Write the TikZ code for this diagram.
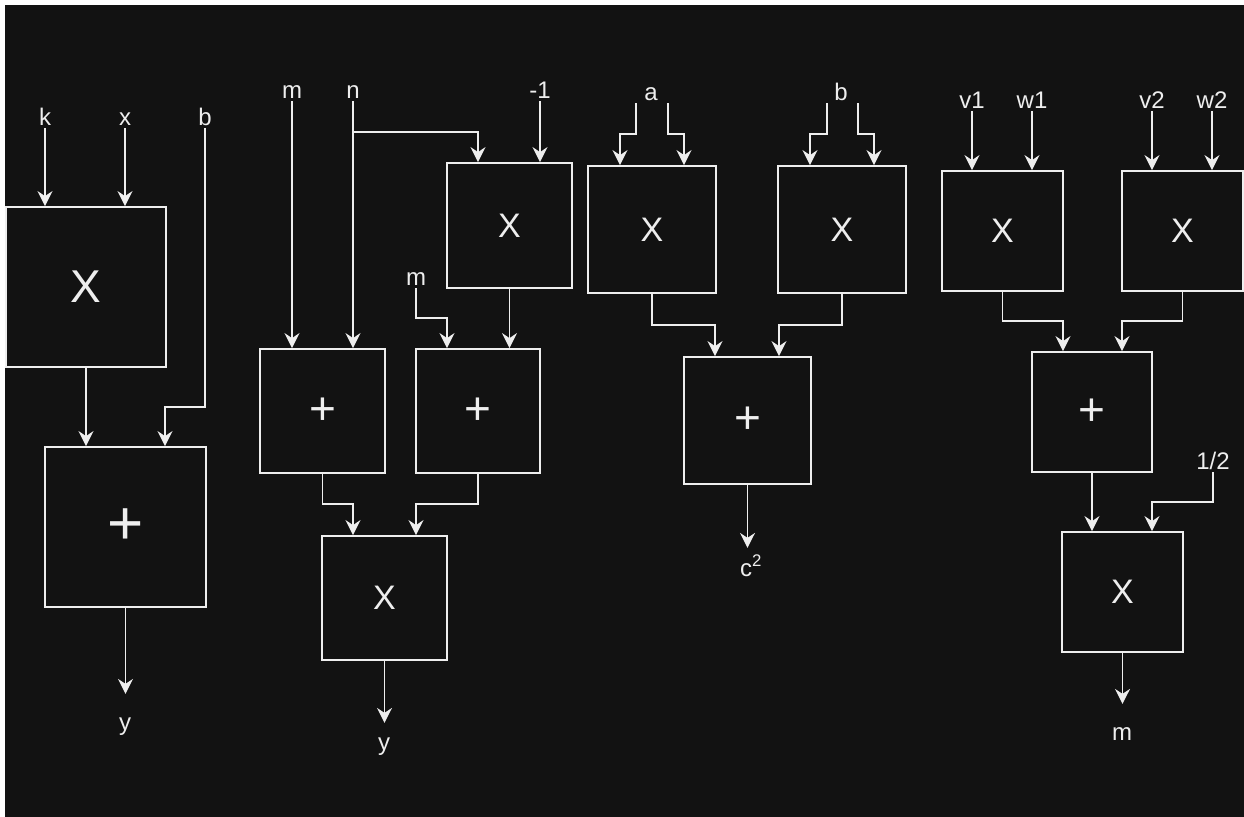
\documentclass[tikz,border=0pt]{standalone}
\usepackage{fontspec}
\setmainfont{Liberation Sans}
\usetikzlibrary{arrows.meta}
\definecolor{bg}{HTML}{121212}
\definecolor{fg}{HTML}{EEEEEE}
\begin{document}
\begin{tikzpicture}[x=1pt,y=-1pt,
  lbl/.style={text=fg, font=\fontsize{24}{24}\selectfont, inner sep=0pt, anchor=base},
  box/.style={draw=fg, line width=1.8pt, fill=bg, inner sep=0pt, text=fg},
  xs/.style={font=\fontsize{34}{34}\selectfont},
  ps/.style={font=\fontsize{46}{46}\selectfont},
  arr/.style={draw=fg, line width=1.8pt, -{Stealth[length=15pt,width=15pt,inset=5pt]}},
]
\useasboundingbox (0,0) rectangle (1244,816);
\fill[white] (0,0) rectangle (1244,816);
\fill[bg] (5,5) rectangle (1250,822);

% ---------- block 1
\node[box, minimum width=160pt, minimum height=160pt, font=\fontsize{46}{46}\selectfont] (X1) at (86,287) {X};
\node[box, minimum width=161pt, minimum height=160pt, font=\fontsize{62}{62}\selectfont] (P1) at (125.5,527) {+};
\node[lbl] (k) at (45,125) {k};
\node[lbl] (x) at (125,125) {x};
\node[lbl] (b1) at (205,125) {b};
\node[lbl] (y1) at (125,730) {y};
\draw[arr] ([yshift=-3pt]k.base) -- (k.base |- X1.north);
\draw[arr] ([yshift=-3pt]x.base) -- (x.base |- X1.north);
\draw[arr] ([yshift=-3pt]b1.base) |- (165,407) -- (165,0 |- P1.north);
\draw[arr] (X1.south) -- (X1.south |- P1.north);
\draw[arr] (P1.south) -- ++(0,86);

% ---------- block 2
\node[box, xs, minimum width=125pt, minimum height=125pt] (X2a) at (509.5,225.5) {X};
\node[box, ps, minimum width=125pt, minimum height=124pt] (P2a) at (322.5,411) {+};
\node[box, ps, minimum width=124pt, minimum height=124pt] (P2b) at (478,411) {+};
\node[box, xs, minimum width=125pt, minimum height=124pt] (X2b) at (384.5,598) {X};
\node[lbl] (m1) at (292,98) {m};
\node[lbl] (n1) at (353,98) {n};
\node[lbl] (mn1) at (540,98) {-1};
\node[lbl] (m2) at (416,285) {m};
\node[lbl] (y2) at (384,750) {y};
\draw[arr] ([yshift=-3pt]m1.base) -- (m1.base |- P2a.north);
\draw[arr] ([yshift=-3pt]n1.base) -- (n1.base |- P2a.north);
\draw[arr] (n1.base |- 0,132) -| (478,0 |- X2a.north);
\draw[arr] ([yshift=-3pt]mn1.base) -- (mn1.base |- X2a.north);
\draw[arr] ([yshift=-3pt]m2.base) |- (447,318) -- (447,0 |- P2b.north);
\draw[arr] (X2a.south) -- (X2a.south |- P2b.north);
\draw[arr] (P2a.south) |- (353,504) -- (353,0 |- X2b.north);
\draw[arr] (P2b.south) |- (416,504) -- (416,0 |- X2b.north);
\draw[arr] (X2b.south) -- ++(0,62);

% ---------- block 3
\node[box, xs, minimum width=128pt, minimum height=127pt] (X3a) at (652,229.5) {X};
\node[box, xs, minimum width=128pt, minimum height=127pt] (X3b) at (842,229.5) {X};
\node[box, ps, minimum width=127pt, minimum height=127pt] (P3) at (747.5,420.5) {+};
\node[lbl] (a) at (651,100) {a};
\node[lbl] (b2) at (841,100) {b};
\node[lbl] (c2) at (751,576) {c\textsuperscript{2}};
\draw[arr] ([xshift=-15pt,yshift=-3pt]a.base) |- (620,134) -- (620,0 |- X3a.north);
\draw[arr] ([xshift=17pt,yshift=-3pt]a.base) |- (684,134) -- (684,0 |- X3a.north);
\draw[arr] ([xshift=-14pt,yshift=-3pt]b2.base) |- (810,134) -- (810,0 |- X3b.north);
\draw[arr] ([xshift=17pt,yshift=-3pt]b2.base) |- (874,134) -- (874,0 |- X3b.north);
\draw[arr] (X3a.south) |- (715,325) -- (715,0 |- P3.north);
\draw[arr] (X3b.south) |- (779,325) -- (779,0 |- P3.north);
\draw[arr] (P3.south) -- ++(0,63);

% ---------- block 4
\node[box, xs, minimum width=121pt, minimum height=120pt] (X4a) at (1002.5,231) {X};
\node[box, xs, minimum width=121pt, minimum height=120pt] (X4b) at (1182.5,231) {X};
\node[box, ps, minimum width=120pt, minimum height=120pt] (P4) at (1092,412) {+};
\node[box, xs, minimum width=121pt, minimum height=120pt] (X4c) at (1122.5,592) {X};
\node[lbl] (v1) at (972,108) {v1};
\node[lbl] (w1) at (1032,108) {w1};
\node[lbl] (v2) at (1152,108) {v2};
\node[lbl] (w2) at (1212,108) {w2};
\node[lbl] (half) at (1213,469) {1/2};
\node[lbl] (m3) at (1122,740) {m};
\draw[arr] ([yshift=-3pt]v1.base) -- (v1.base |- X4a.north);
\draw[arr] ([yshift=-3pt]w1.base) -- (w1.base |- X4a.north);
\draw[arr] ([yshift=-3pt]v2.base) -- (v2.base |- X4b.north);
\draw[arr] ([yshift=-3pt]w2.base) -- (w2.base |- X4b.north);
\draw[arr] (X4a.south) |- (1063,321) -- (1063,0 |- P4.north);
\draw[arr] (X4b.south) |- (1122,321) -- (1122,0 |- P4.north);
\draw[arr] (P4.south) -- (P4.south |- X4c.north);
\draw[arr] ([yshift=-3pt]half.base) |- (1152,502) -- (1152,0 |- X4c.north);
\draw[arr] (X4c.south) -- ++(0,51);
\end{tikzpicture}
\end{document}
